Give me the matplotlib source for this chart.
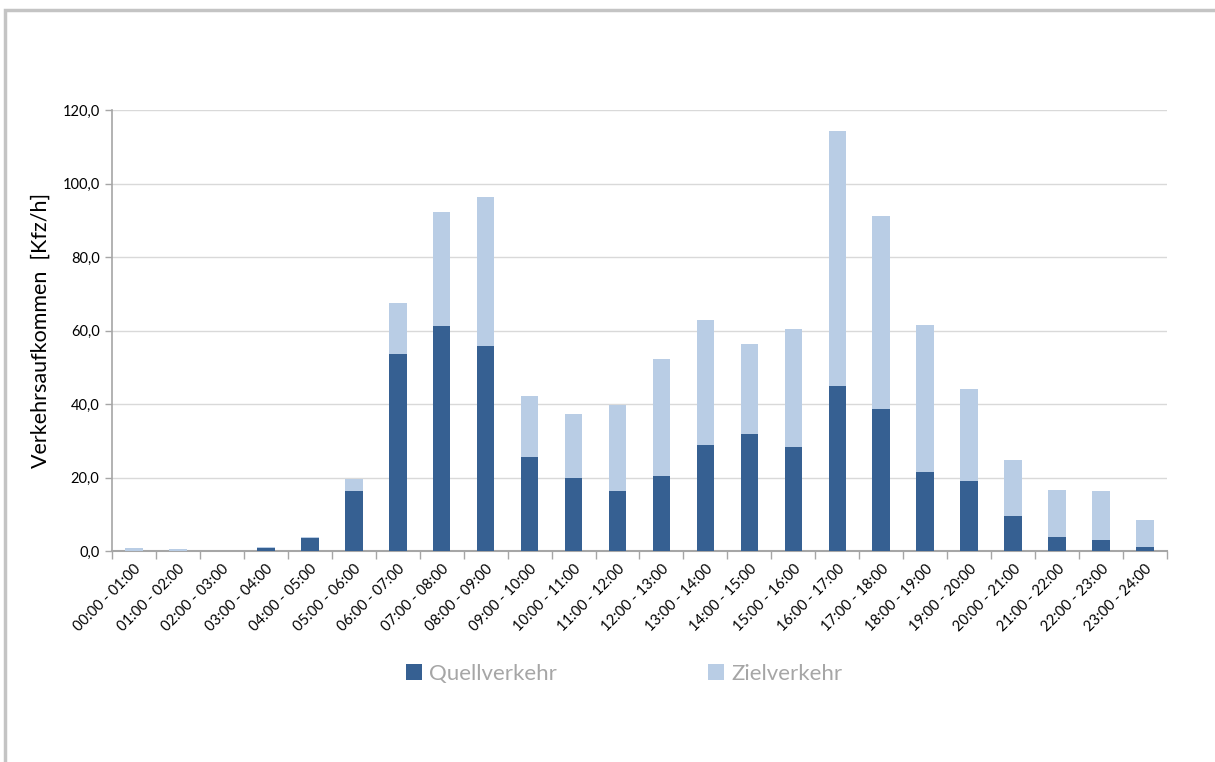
import matplotlib
matplotlib.use('Agg')
import matplotlib.pyplot as plt
import numpy as np
from matplotlib.patches import Rectangle

# hourly traffic, values
zeitraum = [f"{h:02d}:00 - {h+1:02d}:00" for h in range(24)]
quellverkehr = [0.0, 0.0, 0.0, 0.8, 3.5, 16.3, 53.6, 61.2, 55.8, 25.6, 19.9, 16.3,
                20.4, 28.8, 31.8, 28.3, 44.9, 38.6, 21.5, 19.0, 9.5, 3.8, 3.0, 1.1]
zielverkehr = [0.8, 0.6, 0.0, 0.2, 0.3, 3.3, 13.9, 31.0, 40.5, 16.6, 17.4, 23.4,
               31.8, 34.1, 24.5, 32.1, 69.4, 52.6, 40.0, 25.1, 15.3, 12.8, 13.3, 7.3]
yticks = [0, 20, 40, 60, 80, 100, 120]

dunkel = '#366092'
hell = '#B9CDE5'
plt.rcParams['font.family'] = ['Lato', 'DejaVu Sans']

fig = plt.figure(figsize=(12.15, 7.62), dpi=100)
# frame / shadow of the original screenshot
fig.patches.append(Rectangle((5 / 1215, -0.1), 1.2, 1 - 10 / 762 + 0.1, transform=fig.transFigure,
                             fill=False, edgecolor='#C4C4C4', lw=2.5, zorder=0))

ax = fig.add_axes([112 / 1215, 1 - 551 / 762, 1055 / 1215, 441 / 762])
x = np.arange(len(zeitraum))
ax.bar(x, quellverkehr, width=0.4, color=dunkel, label='Quellverkehr', zorder=3)
ax.bar(x, zielverkehr, width=0.4, bottom=quellverkehr, color=hell, label='Zielverkehr', zorder=3)

ax.set_xlim(-0.5, len(zeitraum) - 0.5)
ax.set_ylim(0, 120)
ax.set_yticks(yticks)
ax.set_yticklabels([f"{v:.1f}".replace('.', ',') for v in yticks], fontsize=10.5)
ax.yaxis.grid(True, color='#D9D9D9', lw=1, zorder=0)
ax.tick_params(axis='y', length=5, color='#A6A6A6', width=1, pad=4)

ax.set_xticks(x)
ax.set_xticklabels(zeitraum, rotation=45, ha='right', rotation_mode='anchor', fontsize=10.5)
ax.tick_params(axis='x', length=0, pad=8)
ax.set_xticks(np.arange(-0.5, len(zeitraum)), minor=True)
ax.tick_params(axis='x', which='minor', length=6, color='#A6A6A6', width=1)

for s in ['top', 'right']:
    ax.spines[s].set_visible(False)
ax.spines['left'].set_color('#A6A6A6')
ax.spines['bottom'].set_color('#A6A6A6')
ax.spines['left'].set_linewidth(1.2)
ax.spines['bottom'].set_linewidth(1.5)

ax.set_ylabel('Verkehrsaufkommen  [Kfz/h]', fontsize=15.5, labelpad=8)

leg = fig.legend(loc='center', bbox_to_anchor=(0.514, 1 - 674 / 762), ncol=2, frameon=False,
                 fontsize=16, handlelength=0.7, handleheight=0.7, handletextpad=0.35,
                 columnspacing=6.8)
for t in leg.get_texts():
    t.set_color('#A6A6A6')

fig.savefig('out.png', dpi=100)
